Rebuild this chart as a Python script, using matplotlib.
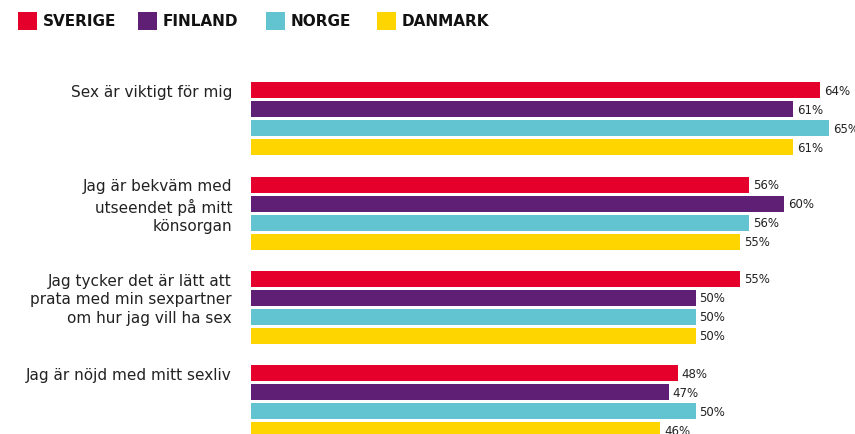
import matplotlib
matplotlib.use("Agg")
import matplotlib.pyplot as plt
from matplotlib.patches import Rectangle

categories = [
    "Sex är viktigt för mig",
    "Jag är bekväm med\nutseendet på mitt\nkönsorgan",
    "Jag tycker det är lätt att\nprata med min sexpartner\nom hur jag vill ha sex",
    "Jag är nöjd med mitt sexliv",
]
countries = ["SVERIGE", "FINLAND", "NORGE", "DANMARK"]
sverige = [64, 56, 55, 48]
finland = [61, 60, 50, 47]
norge = [65, 56, 50, 50]
danmark = [61, 55, 50, 46]
series = [sverige, finland, norge, danmark]
colors = ["#E4002B", "#5F1F74", "#62C3D1", "#FFD500"]

W, H = 855, 435
fig = plt.figure(figsize=(W / 100, H / 100), dpi=100)
ax = fig.add_axes([251 / W, 0, 1 - 251 / W, 1])
ax.set_xlim(0, (W - 251) / 8.89)
ax.set_ylim(18.1, -4.8)
ax.axis("off")

for g in range(len(categories)):
    for j, (vals, c) in enumerate(zip(series, colors)):
        y = g * 4.97 + j
        ax.barh(y, vals[g], height=0.84, color=c, linewidth=0)
        ax.text(vals[g] + 0.45, y, f"{vals[g]}%", va="center", ha="left",
                fontsize=8.5, color="#222222")
    ax.annotate(categories[g], xy=(0, g * 4.97 - 0.33), xycoords="data",
                xytext=(-19, 0), textcoords="offset pixels",
                ha="right", va="top", fontsize=11, color="#222222",
                linespacing=1.3, multialignment="right", annotation_clip=False)

# legend
sq_x = [18, 138, 266, 377]
for name, c, x in zip(countries, colors, sq_x):
    fig.patches.append(Rectangle((x / W, 1 - 31 / H), 19 / W, 18 / H,
                                 transform=fig.transFigure, color=c, linewidth=0))
    fig.text((x + 25) / W, 1 - 22 / H, name, ha="left", va="center",
             fontsize=11, fontweight="bold", color="#111111")

fig.savefig("out.png", dpi=100)
